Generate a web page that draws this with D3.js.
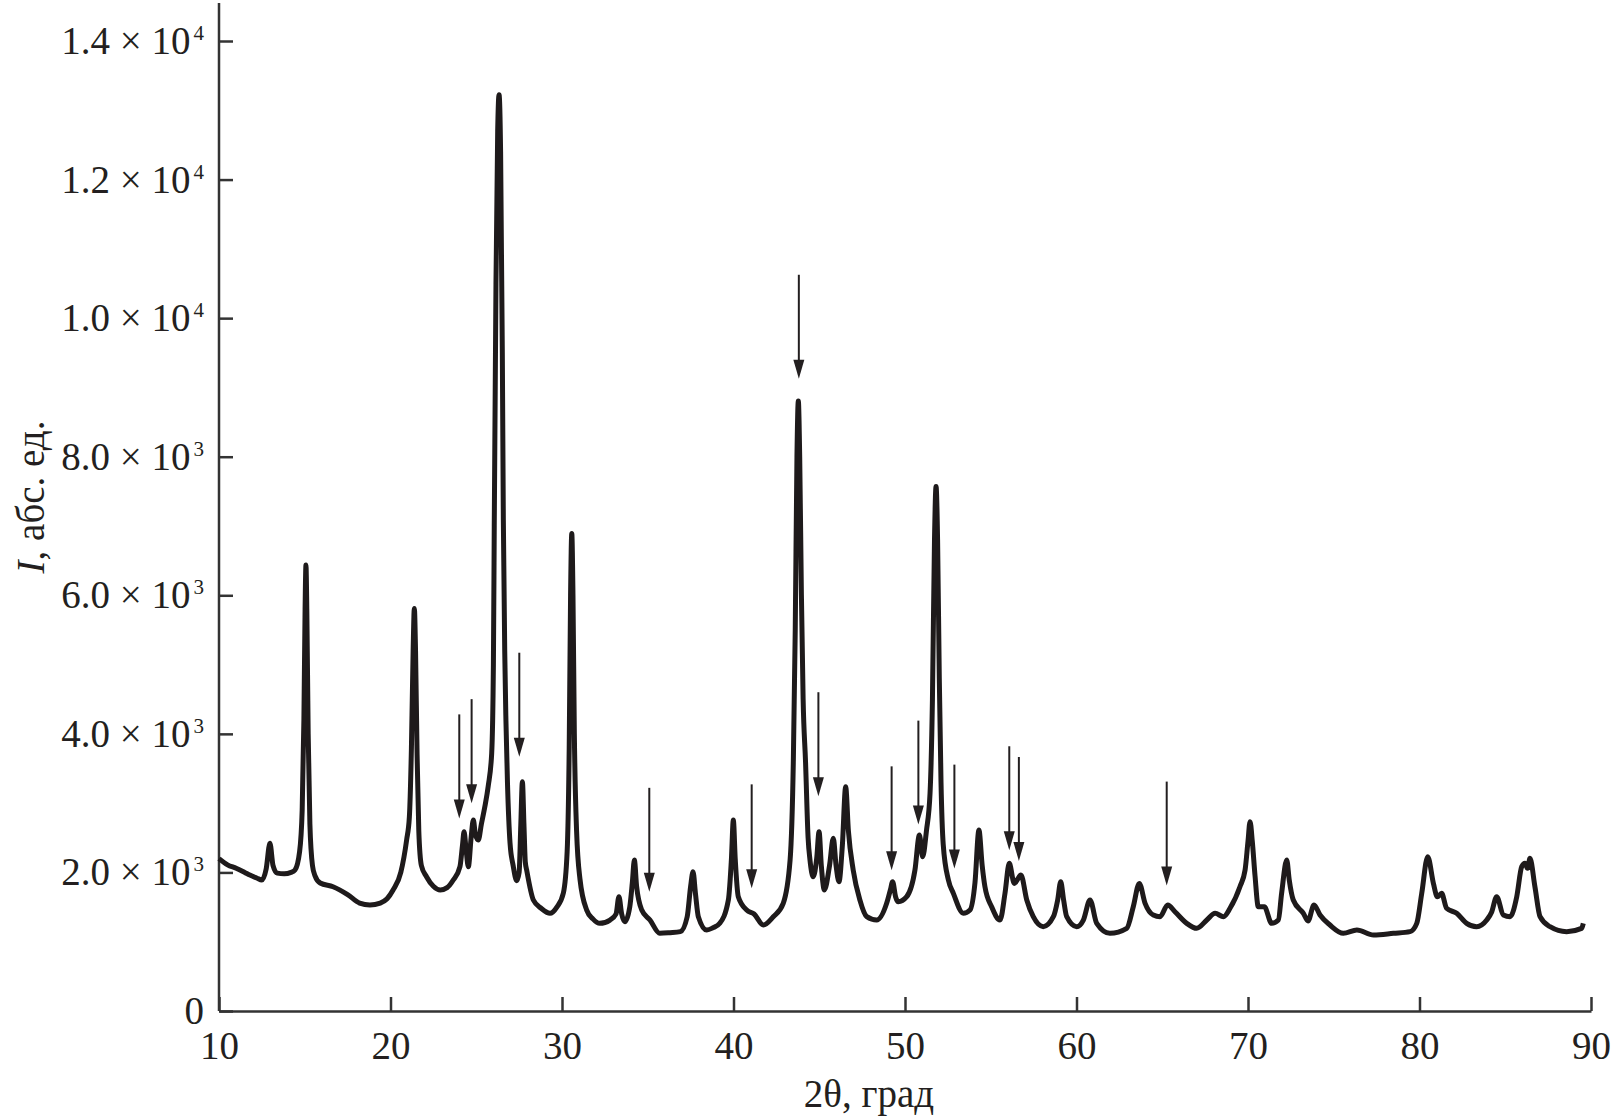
<!DOCTYPE html>
<html>
<head>
<meta charset="utf-8">
<script src="https://cdn.jsdelivr.net/npm/d3@7"></script>
<style>
    body { margin: 0; background: #fff; }
    text { font-family: "Liberation Serif", "Times New Roman", serif; fill: #231f20; }
</style>
</head>
<body>
<div id="vis"></div>
<script>
// Data ------------------------------------------------------------------------
var twoTheta = [
    10.0, 10.5, 11.0, 11.5, 11.8, 12.2, 12.5, 12.75, 12.97, 13.15, 13.4, 13.8, 14.2, 14.43,
    14.7, 14.85, 14.95, 15.02, 15.07, 15.12, 15.2, 15.3, 15.45, 15.6, 15.9, 16.65, 17.5,
    18.2, 18.8, 19.4, 19.8, 20.15, 20.6, 20.94, 21.1, 21.22, 21.32, 21.39, 21.46, 21.55,
    21.65, 21.8, 22.1, 22.5, 22.9, 23.3, 23.66, 24.05, 24.2, 24.29, 24.4, 24.54, 24.7,
    24.83, 24.95, 25.12, 25.3, 25.5, 25.7, 25.9, 26.0, 26.05, 26.15, 26.25, 26.33, 26.42,
    26.52, 26.58, 26.66, 26.73, 26.82, 26.97, 27.15, 27.36, 27.5, 27.6, 27.69, 27.78, 27.86,
    27.94, 28.33, 28.8, 29.3, 29.7, 30.08, 30.3, 30.42, 30.5, 30.57, 30.64, 30.72, 30.85,
    31.05, 31.44, 31.8, 32.2, 32.8, 33.15, 33.32, 33.48, 33.67, 33.95, 34.1, 34.22, 34.35,
    34.65, 35.13, 35.7, 36.3, 36.9, 37.3, 37.5, 37.64, 37.78, 37.95, 38.44, 38.8, 39.2,
    39.7, 39.88, 39.99, 40.1, 40.28, 40.77, 41.2, 41.74, 42.32, 42.9, 43.3, 43.49, 43.6,
    43.7, 43.78, 43.86, 43.96, 44.06, 44.2, 44.35, 44.46, 44.65, 44.85, 44.99, 45.12, 45.3,
    45.6, 45.82, 45.98, 46.15, 46.35, 46.54, 46.7, 46.98, 47.37, 47.77, 48.35, 48.93, 49.15,
    49.28, 49.45, 49.61, 50.1, 50.58, 50.84, 51.03, 51.25, 51.46, 51.6, 51.72, 51.81, 51.9,
    52.0, 52.1, 52.23, 52.53, 52.82, 53.4, 53.79, 54.08, 54.31, 54.5, 54.66, 55.05, 55.54,
    55.83, 56.08, 56.37, 56.76, 57.1, 57.48, 58.06, 58.65, 58.9, 59.08, 59.25, 59.43, 60.01,
    60.4, 60.79, 61.18, 61.95, 62.93, 63.31, 63.66, 64.0, 64.48, 64.87, 65.32, 65.74, 66.43,
    67.01, 67.6, 68.08, 68.57, 68.95, 69.53, 69.83, 70.0, 70.12, 70.25, 70.41, 70.6, 70.95,
    71.38, 71.77, 71.96, 72.26, 72.4, 72.64, 73.23, 73.5, 73.85, 74.2, 74.78, 75.56, 76.35,
    77.32, 78.48, 79.45, 79.84, 80.13, 80.48, 80.81, 81.04, 81.29, 81.58, 82.17, 82.75,
    83.33, 83.92, 84.21, 84.5, 84.89, 85.28, 85.67, 85.96, 86.15, 86.3, 86.44, 86.73, 87.03,
    87.61, 88.58, 89.45, 89.55
];
var intensity = [
    2200, 2110, 2060, 2000, 1962, 1920, 1890, 2050, 2420, 2100, 1990, 1980, 2000, 2035,
    2300, 2900, 4200, 5800, 6436, 5800, 4000, 2700, 2100, 1950, 1847, 1794, 1680,
    1558, 1530, 1558, 1620, 1746, 2000, 2468, 2800, 3800, 5200, 5811, 5200, 3700,
    2600, 2100, 1938, 1800, 1746, 1780, 1890, 2083, 2400, 2588, 2350, 2083, 2500,
    2756, 2550, 2468, 2700, 2948, 3250, 3720, 5000, 7000, 10500, 12700, 13224, 12400,
    9500, 7085, 5200, 4200, 3300, 2424, 2100, 1880, 2000, 2700, 3309, 2700, 2150,
    2035, 1602, 1480, 1410, 1500, 1703, 2300, 3800, 6000, 6893, 6000, 4000, 2600,
    1900, 1457, 1330, 1265, 1313, 1400, 1650, 1400, 1289, 1500, 1850, 2179, 1800,
    1457, 1313, 1121, 1130, 1145, 1361, 1800, 2010, 1700, 1361, 1169, 1200, 1265,
    1602, 2200, 2756, 2200, 1650, 1457, 1400, 1241, 1361, 1554, 2179, 3622, 5500,
    8000, 8803, 8000, 6000, 4500, 3600, 2500, 2179, 1938, 2200, 2588, 2100, 1746,
    2100, 2492, 2100, 1866, 2400, 3237, 2600, 2035, 1602, 1361, 1313, 1554, 1750,
    1866, 1650, 1577, 1650, 2035, 2540, 2227, 2600, 3145, 4500, 6800, 7571, 6800,
    4800, 3300, 2400, 1890, 1698, 1410, 1457, 1850, 2612, 2100, 1794, 1505, 1313,
    1698, 2131, 1842, 1962, 1602, 1361, 1217, 1361, 1600, 1866, 1600, 1361, 1217,
    1313, 1602, 1265, 1121, 1193, 1505, 1842, 1554, 1385, 1361, 1530, 1433, 1265,
    1193, 1313, 1410, 1361, 1482, 1794, 2035, 2450, 2732, 2450, 1950, 1505, 1505,
    1265, 1313, 1698, 2179, 1900, 1602, 1410, 1300, 1530, 1385, 1241, 1121, 1169,
    1097, 1121, 1145, 1265, 1698, 2227, 1842, 1650, 1698, 1482, 1410, 1265,
    1217, 1313, 1430, 1650, 1385, 1361, 1650, 2083, 2131, 2060, 2203, 1794, 1361,
    1217, 1145, 1193, 1265
];

// arrows marking the extra phase: position and intensity of the arrow tip
var arrowPos = [24.01, 24.73, 27.51, 35.09, 41.06, 43.81, 44.95, 49.22, 50.78, 52.88, 56.08, 56.64, 65.26];
var arrowTip = [2780, 3000, 3670, 1720, 1770, 9125, 3100, 2030, 2690, 2055, 2320, 2165, 1810];

var xTicks = [10, 20, 30, 40, 50, 60, 70, 80, 90];
var yTicks = [0, 2000, 4000, 6000, 8000, 10000, 12000, 14000];

var data = twoTheta.map(function(t, i) {
    return { t: t, I: intensity[i] };
});

// Set graph dimensions ---------------------------------------------------------
var margin = {
        top: 41,
        left: 219,
        right: 1591,
        bottom: 1011
    },
    width = 1613,
    height = 1119,
    ink = "#231f20";

var x = d3.scaleLinear()
    .domain([10, 90])
    .range([margin.left, margin.right]);
var y = d3.scaleLinear()
    .domain([0, 14000])
    .range([margin.bottom, margin.top]);

var svg = d3.select("#vis").append("svg")
    .attr("width", width)
    .attr("height", height);

// Axes -------------------------------------------------------------------------
var xAxis = svg.append("g")
    .attr("transform", "translate(0," + margin.bottom + ")")
    .call(d3.axisBottom(x)
        .tickValues(xTicks)
        .tickSizeInner(-14)
        .tickSizeOuter(0)
        .tickPadding(20)
        .tickFormat(d3.format("d")));

var yAxis = svg.append("g")
    .attr("transform", "translate(" + margin.left + ",0)")
    .call(d3.axisLeft(y)
        .tickValues(yTicks)
        .tickSizeInner(-14)
        .tickSizeOuter(0)
        .tickPadding(15)
        .tickFormat(function() { return ""; }));

// y axis line runs up to the top of the figure
yAxis.select(".domain").remove();
yAxis.append("line")
    .attr("x1", 0)
    .attr("x2", 0)
    .attr("y1", 3)
    .attr("y2", margin.bottom);

svg.selectAll(".domain, .tick line, line")
    .attr("stroke", "#333")
    .attr("stroke-width", 2.5);

xAxis.selectAll("text")
    .attr("font-size", 39)
    .attr("font-family", "Liberation Serif")
    .attr("fill", ink);

// y tick labels as "m × 10^e"
yAxis.selectAll(".tick text")
    .attr("font-size", 39)
    .attr("font-family", "Liberation Serif")
    .attr("fill", ink)
    .each(function(d) {
        var t = d3.select(this);
        if (d === 0) {
            t.text("0");
            return;
        }
        var e = Math.floor(Math.log10(d));
        t.append("tspan").text((d / Math.pow(10, e)).toFixed(1) + " \u00d7 10");
        t.append("tspan")
            .attr("font-size", 21)
            .attr("dy", -14)
            .attr("dx", 3)
            .text(e);
    });

// Axis titles ------------------------------------------------------------------
svg.append("text")
    .attr("x", 869)
    .attr("y", 1107)
    .attr("text-anchor", "middle")
    .attr("font-size", 39)
    .text("2\u03b8, град");

var yTitle = svg.append("text")
    .attr("transform", "translate(44,497) rotate(-90)")
    .attr("text-anchor", "middle")
    .attr("font-size", 39);
yTitle.append("tspan").attr("font-style", "italic").text("I");
yTitle.append("tspan").text(", абс. ед.");

// Pattern ----------------------------------------------------------------------
var line = d3.line()
    .x(function(d) { return x(d.t); })
    .y(function(d) { return y(d.I); })
    .curve(d3.curveMonotoneX);

svg.append("path")
    .datum(data)
    .attr("fill", "none")
    .attr("stroke", "#1e1a1b")
    .attr("stroke-width", 5)
    .attr("stroke-linejoin", "round")
    .attr("d", line);

// Arrows -----------------------------------------------------------------------
var arrows = svg.selectAll(".arrow")
    .data(arrowPos.map(function(p, i) { return { p: p, tip: arrowTip[i] }; }))
    .enter().append("g")
    .attr("class", "arrow")
    .attr("transform", function(d) {
        return "translate(" + x(d.p) + "," + y(d.tip) + ")";
    });

arrows.append("line")
    .attr("x1", 0)
    .attr("x2", 0)
    .attr("y1", -104)
    .attr("y2", -16)
    .attr("stroke", ink)
    .attr("stroke-width", 2);

arrows.append("path")
    .attr("d", "M0,0 L-5.5,-19 L5.5,-19 Z")
    .attr("fill", ink);
</script>
</body>
</html>
